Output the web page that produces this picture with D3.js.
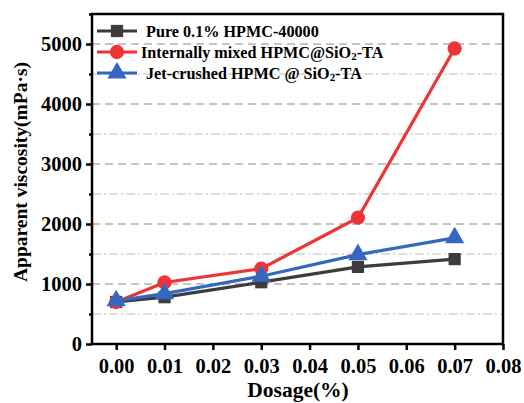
<!DOCTYPE html>
<html><head><meta charset="utf-8">
<script src="https://cdn.jsdelivr.net/npm/d3@7"></script>
<style>body{margin:0;background:#fff;} svg{display:block;}</style>
</head><body>
<svg id="c" width="524" height="403"></svg>
<script>
const dosage = [0.00, 0.01, 0.03, 0.05, 0.07];
const pureHPMC = [700, 780, 1030, 1285, 1415];
const internalMixed = [700, 1025, 1255, 2105, 4925];
const jetCrushed = [720, 840, 1130, 1490, 1770];
const xTicks = [0.00, 0.01, 0.02, 0.03, 0.04, 0.05, 0.06, 0.07, 0.08];
const yTicks = [0, 1000, 2000, 3000, 4000, 5000];
const yMinor = [500, 1500, 2500, 3500, 4500, 5500];

const svg = d3.select("#c");
const L = 92, R = 503, T = 14, B = 344;
const x = d3.scaleLinear().domain([-0.005, 0.08]).range([L, R]);
const y = d3.scaleLinear().domain([0, 5500]).range([B, T]);
const font = "'Liberation Serif','Times New Roman',serif";

// grid
svg.append("g").selectAll("line").data(yTicks.filter(d => d > 0)).join("line")
  .attr("x1", L).attr("x2", R).attr("y1", d => y(d)).attr("y2", d => y(d))
  .attr("stroke", "#8a8a8a").attr("stroke-width", 1.2).attr("stroke-dasharray", "8,5");
svg.append("g").selectAll("line").data(yMinor.filter(d => d < 5500)).join("line")
  .attr("x1", L).attr("x2", R).attr("y1", d => y(d)).attr("y2", d => y(d))
  .attr("stroke", "#bdbdbd").attr("stroke-width", 1.2).attr("stroke-dasharray", "9,3,2,3");

// axes
const yAxis = svg.append("g").attr("transform", `translate(${L},0)`)
  .call(d3.axisLeft(y).tickValues(yTicks).tickSize(6).tickPadding(4).tickFormat(d3.format("d")));
const yAxisMinor = svg.append("g").attr("transform", `translate(${L},0)`)
  .call(d3.axisLeft(y).tickValues(yMinor).tickSize(3).tickFormat(""));
const xAxis = svg.append("g").attr("transform", `translate(0,${B})`)
  .call(d3.axisBottom(x).tickValues(xTicks).tickSize(6).tickPadding(8).tickFormat(d3.format(".2f")));
[yAxis, yAxisMinor, xAxis].forEach(g => {
  g.select(".domain").remove();
  g.selectAll("line").attr("stroke", "#000").attr("stroke-width", 2.5);
  g.selectAll("text").attr("font-family", font).attr("font-weight", "bold")
   .attr("font-size", 20.5).attr("fill", "#000");
});
svg.append("rect").attr("x", L).attr("y", T).attr("width", R - L).attr("height", B - T)
  .attr("fill", "none").attr("stroke", "#000").attr("stroke-width", 2.5);

// titles
svg.append("text").attr("transform", `translate(27,172) rotate(-90)`)
  .attr("text-anchor", "middle").attr("font-family", font).attr("font-weight", "bold")
  .attr("font-size", 19.5).text("Apparent viscosity(mPa·s)");
svg.append("text").attr("x", 298).attr("y", 397).attr("text-anchor", "middle")
  .attr("font-family", font).attr("font-weight", "bold").attr("font-size", 21.5).text("Dosage(%)");

// series
const series = [
  {name: "pure", vals: pureHPMC, color: "#3c3c3c", marker: "square"},
  {name: "internal", vals: internalMixed, color: "#ee3434", marker: "circle"},
  {name: "jet", vals: jetCrushed, color: "#3468c0", marker: "triangle"}
];
const symType = {square: d3.symbolSquare, circle: d3.symbolCircle, triangle: d3.symbolTriangle};
const symSize = {square: 150, circle: 160, triangle: 160};
const line = d3.line().x((d, i) => x(dosage[i])).y(d => y(d));
series.forEach(s => {
  const g = svg.append("g");
  g.append("path").attr("d", line(s.vals)).attr("fill", "none")
    .attr("stroke", s.color).attr("stroke-width", 3.2);
  g.selectAll("path.m").data(s.vals).join("path").attr("class", "m")
    .attr("transform", (d, i) => `translate(${x(dosage[i])},${y(d)})`)
    .attr("d", d3.symbol().type(symType[s.marker]).size(symSize[s.marker]))
    .attr("fill", s.color);
});

// legend
const legend = [
  {s: series[0], parts: [["Pure 0.1% HPMC-40000", false]], tx: 146},
  {s: series[1], parts: [["Internally mixed HPMC@SiO", false], ["2", true], ["-TA", false]], tx: 141},
  {s: series[2], parts: [["Jet-crushed HPMC @ SiO", false], ["2", true], ["-TA", false]], tx: 146}
];
legend.forEach((l, i) => {
  const yy = 31 + i * 21;
  svg.append("line").attr("x1", 97).attr("x2", 137).attr("y1", yy).attr("y2", yy)
    .attr("stroke", l.s.color).attr("stroke-width", 3.2);
  svg.append("path").attr("transform", `translate(117,${yy})`)
    .attr("d", d3.symbol().type(symType[l.s.marker]).size(symSize[l.s.marker]))
    .attr("fill", l.s.color);
  const t = svg.append("text").attr("x", l.tx).attr("y", yy + 5.5)
    .attr("font-family", font).attr("font-weight", "bold").attr("font-size", 16.2).attr("fill", "#000");
  l.parts.forEach(p => {
    const ts = t.append("tspan").text(p[0]);
    if (p[1]) ts.attr("font-size", 11).attr("dy", 2);
    else if (t.selectAll("tspan").size() > 1) ts.attr("dy", -2);
  });
});
</script>
</body></html>
